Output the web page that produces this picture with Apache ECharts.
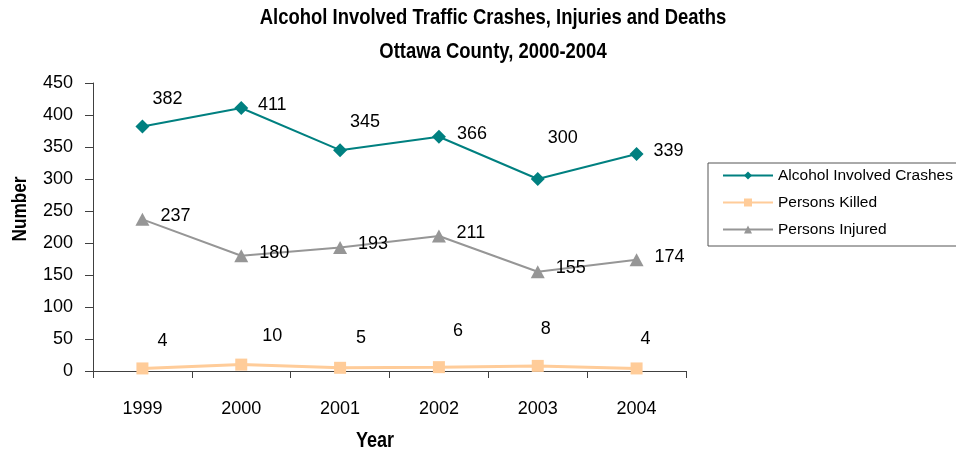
<!DOCTYPE html>
<html>
<head>
<meta charset="utf-8">
<script src="https://cdn.jsdelivr.net/npm/echarts@6/dist/echarts.min.js"></script>
<style>
  html, body { margin: 0; padding: 0; background: #fff; }
  #chart { width: 956px; height: 454px; }
</style>
</head>
<body>
<div id="chart"></div>
<script>
// Ottawa County alcohol-involved traffic statistics, 1999-2004
var years = ['1999', '2000', '2001', '2002', '2003', '2004'];
var crashes = [382, 411, 345, 366, 300, 339];
var killed = [4, 10, 5, 6, 8, 4];
var injured = [237, 180, 193, 211, 155, 174];
var yTicks = { min: 0, max: 450, step: 50 };

var titleLines = ['Alcohol Involved Traffic Crashes, Injuries and Deaths', 'Ottawa County, 2000-2004'];
var yName = 'Number';
var xName = 'Year';

var sans = "'Liberation Sans', Arial, sans-serif";
// condensed look for headings: regular sans squeezed horizontally
var squeeze = 0.82;

// Where each value label sits relative to its marker (dx, dy in px)
var crashLabelShift = [[25, -27], [31, -3], [25, -28], [33, -3], [25, -41], [32, -3]];
var killedLabelShift = [[20, -27], [31, -29], [21, -30], [19, -36], [8, -37], [9, -29]];
var injuredLabelShift = [[33, -3], [33, -3], [33, -3], [32, -3], [33, -4], [33, -3]];

function labelled(values, shifts) {
  return values.map(function (v, i) {
    return { value: v, label: { offset: shifts[i] } };
  });
}

function heading(text, x, y, size, rotation) {
  return {
    type: 'text',
    x: x,
    y: y,
    rotation: rotation || 0,
    scaleX: squeeze,
    style: {
      text: text,
      fontFamily: sans,
      fontWeight: 'bold',
      fontSize: size,
      fill: '#000',
      align: 'center',
      verticalAlign: 'middle'
    }
  };
}

var valueLabel = {
  show: true,
  position: 'inside',
  align: 'center',
  verticalAlign: 'middle',
  color: '#000',
  fontFamily: sans,
  fontSize: 18
};

var axisColor = '#404040';

var chart = echarts.init(document.getElementById('chart'), null, { renderer: 'canvas' });
chart.setOption({
  backgroundColor: '#fff',
  animation: false,
  legend: {
    orient: 'vertical',
    left: 708,
    top: 163,
    padding: [4, 10, 8, 14],
    itemWidth: 50,
    itemHeight: 10,
    itemGap: 10,
    borderColor: '#555',
    borderWidth: 1,
    borderRadius: 0,
    textStyle: {
      fontFamily: sans,
      fontSize: 15.5,
      lineHeight: 17,
      color: '#000',
      width: 230
    },
    data: ['Alcohol Involved Crashes', 'Persons Killed', 'Persons Injured']
  },
  grid: {
    left: 93,
    top: 83,
    width: 593,
    height: 288,
    containLabel: false
  },
  graphic: [
    heading(titleLines[0], 493, 18, 22.5),
    heading(titleLines[1], 493, 52, 22.5),
    heading(yName, 20, 209, 21, Math.PI / 2),
    heading(xName, 375, 441, 22)
  ],
  xAxis: {
    type: 'category',
    data: years,
    boundaryGap: true,
    axisLine: { lineStyle: { color: axisColor, width: 1 } },
    axisTick: { show: true, length: 7, lineStyle: { color: axisColor } },
    axisLabel: {
      margin: 29,
      color: '#000',
      fontFamily: sans,
      fontSize: 18
    },
    splitLine: { show: false }
  },
  yAxis: {
    type: 'value',
    min: yTicks.min,
    max: yTicks.max,
    interval: yTicks.step,
    axisLine: { show: true, lineStyle: { color: axisColor, width: 1 } },
    axisTick: { show: true, length: 8, lineStyle: { color: axisColor } },
    axisLabel: {
      margin: 20,
      color: '#000',
      fontFamily: sans,
      fontSize: 18
    },
    splitLine: { show: false }
  },
  series: [
    {
      name: 'Alcohol Involved Crashes',
      type: 'line',
      data: labelled(crashes, crashLabelShift),
      symbol: 'diamond',
      symbolSize: 14,
      showAllSymbol: true,
      color: '#008080',
      lineStyle: { color: '#008080', width: 2 },
      itemStyle: { color: '#008080' },
      label: valueLabel,
      emphasis: { disabled: true }
    },
    {
      name: 'Persons Killed',
      type: 'line',
      data: labelled(killed, killedLabelShift),
      symbol: 'rect',
      symbolSize: 12,
      showAllSymbol: true,
      color: '#FFCC99',
      lineStyle: { color: '#FFCC99', width: 3 },
      itemStyle: { color: '#FFCC99' },
      label: valueLabel,
      emphasis: { disabled: true }
    },
    {
      name: 'Persons Injured',
      type: 'line',
      data: labelled(injured, injuredLabelShift),
      symbol: 'triangle',
      symbolSize: [14, 13],
      showAllSymbol: true,
      color: '#969696',
      lineStyle: { color: '#969696', width: 2 },
      itemStyle: { color: '#969696' },
      label: valueLabel,
      emphasis: { disabled: true }
    }
  ]
});
</script>
</body>
</html>
